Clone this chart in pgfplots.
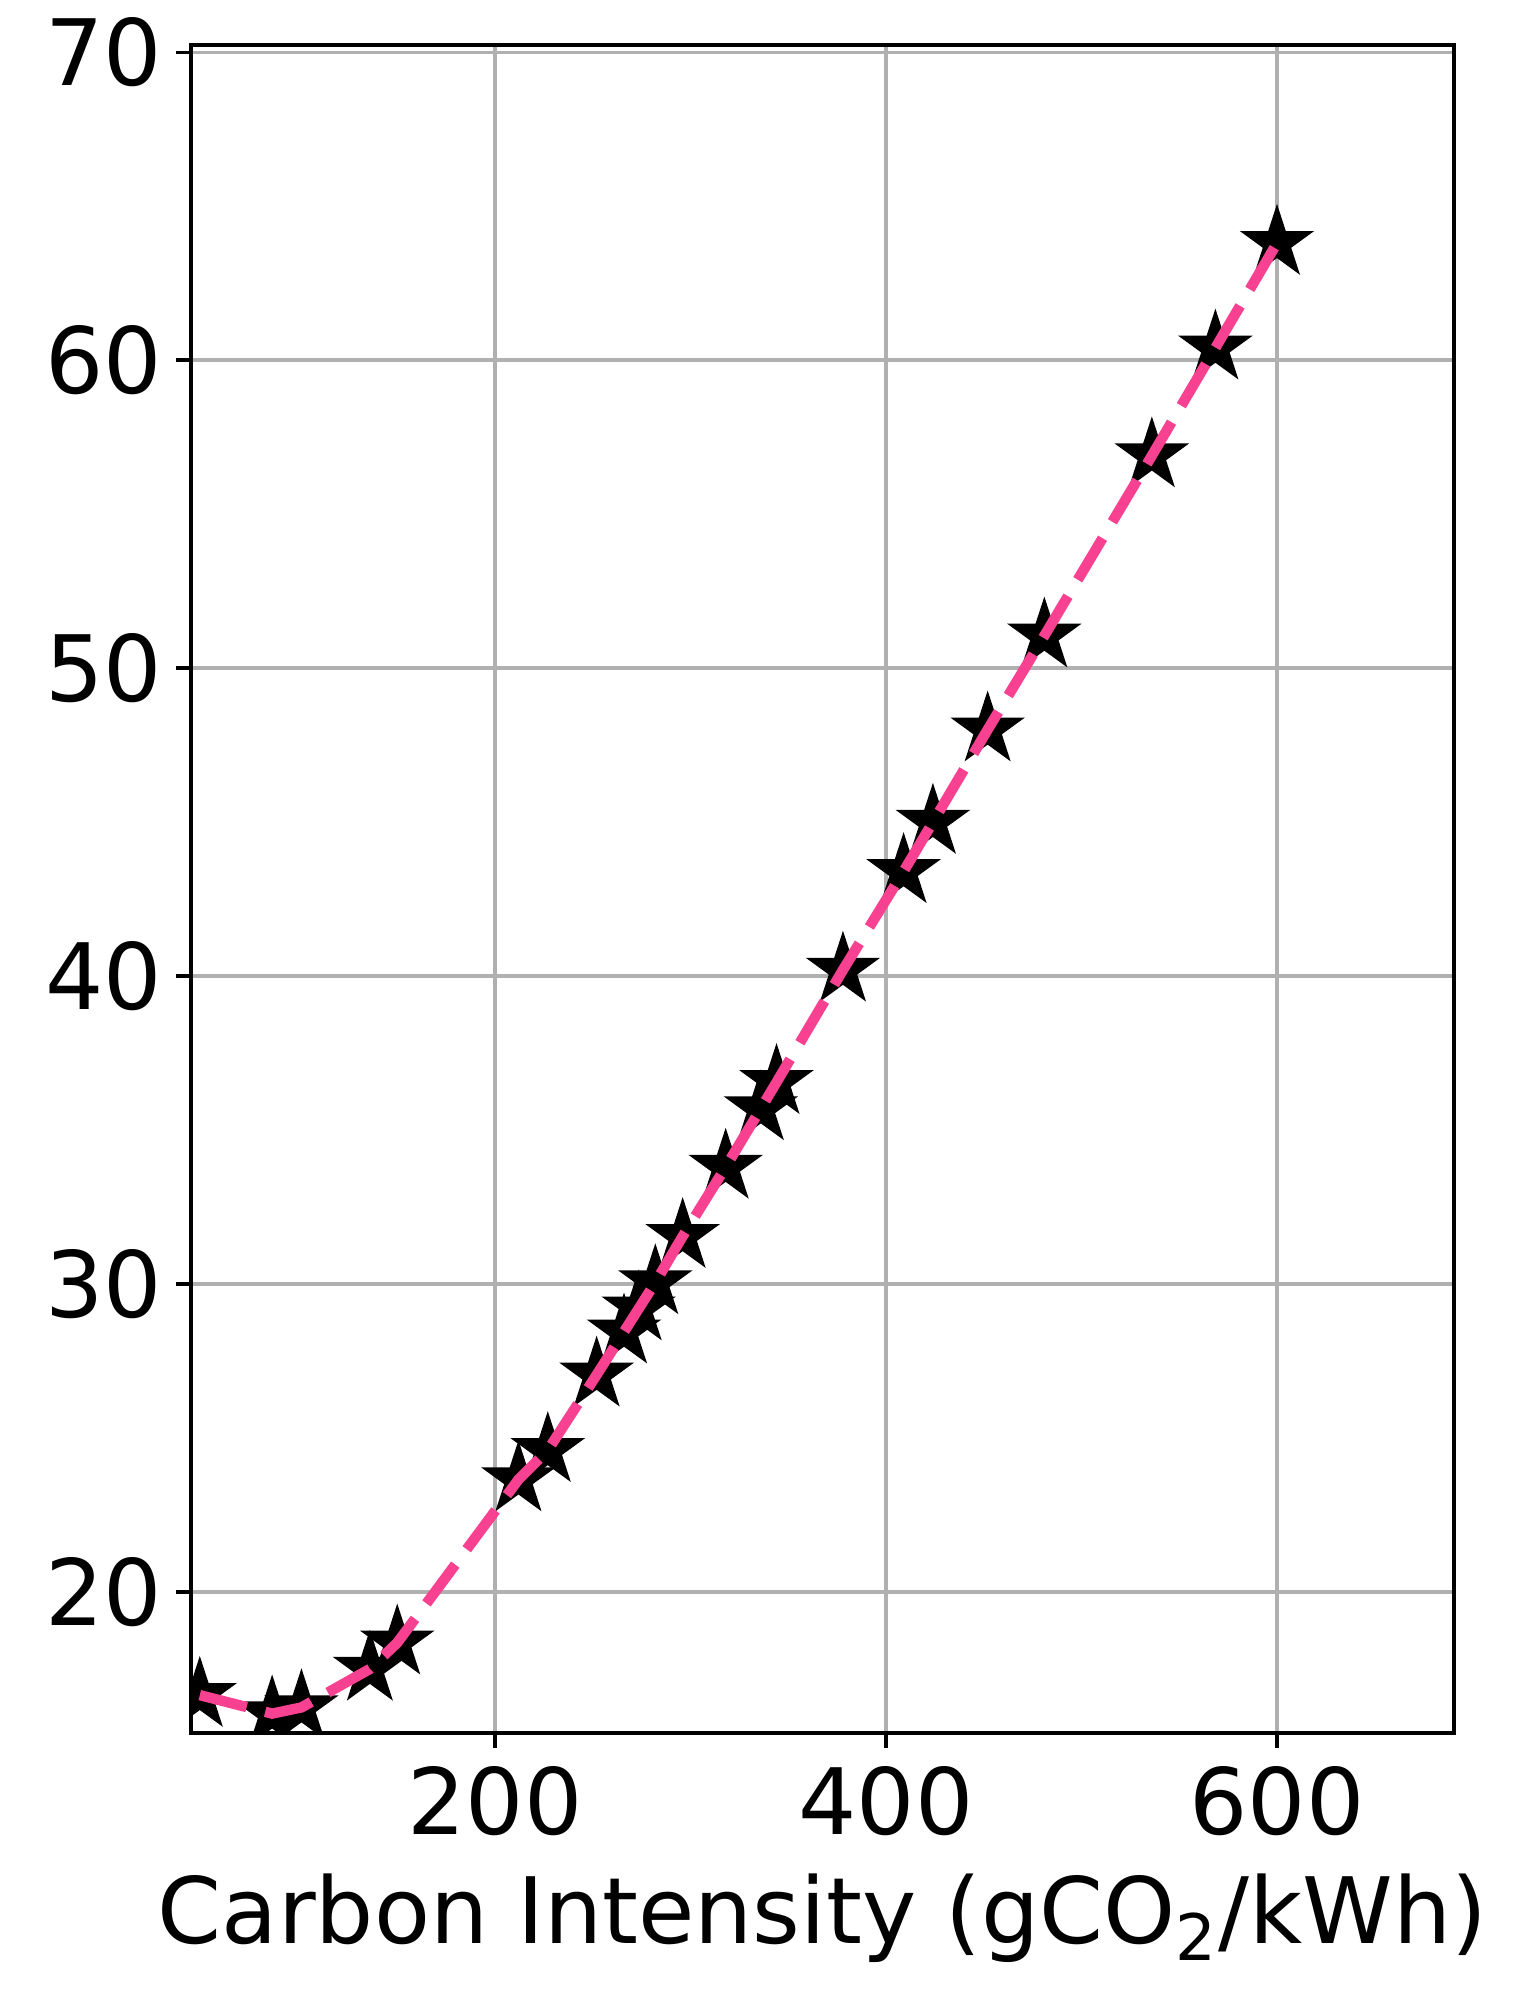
\documentclass[border=0pt]{standalone}
\usepackage{pgfplots}
\pgfplotsset{compat=1.18}
\usepackage{fontspec}
\setmainfont{DejaVu Sans}
\definecolor{pinkline}{RGB}{248,66,145}
\definecolor{gridgray}{RGB}{176,176,176}
\pgfdeclareplotmark{mplstar}{%
  \pgfpathmoveto{\pgfpointpolar{90}{\pgfplotmarksize}}%
  \pgfpathlineto{\pgfpointpolar{126}{0.381966\pgfplotmarksize}}%
  \pgfpathlineto{\pgfpointpolar{162}{\pgfplotmarksize}}%
  \pgfpathlineto{\pgfpointpolar{198}{0.381966\pgfplotmarksize}}%
  \pgfpathlineto{\pgfpointpolar{234}{\pgfplotmarksize}}%
  \pgfpathlineto{\pgfpointpolar{270}{0.381966\pgfplotmarksize}}%
  \pgfpathlineto{\pgfpointpolar{306}{\pgfplotmarksize}}%
  \pgfpathlineto{\pgfpointpolar{342}{0.381966\pgfplotmarksize}}%
  \pgfpathlineto{\pgfpointpolar{18}{\pgfplotmarksize}}%
  \pgfpathlineto{\pgfpointpolar{54}{0.381966\pgfplotmarksize}}%
  \pgfpathclose
  \pgfusepathqfill
}
\pgfplotstableread{
x y
49 16.65
86 16.05
101 16.25
136 17.5
150 18.35
212 23.65
227 24.6
252 27.05
266 28.45
273.5 29.2
282 30.05
296 31.55
318 33.8
336 35.7
344 36.55
378 40.2
409 43.4
424 45.0
452 48.0
481 51.05
536 56.9
568.5 60.4
600 63.8
}\datatable
\begin{document}
\begin{tikzpicture}
\path[use as bounding box] (0,0) rectangle (367.2pt,482.4pt);
\begin{axis}[
  at={(45.84pt,66.48pt)}, anchor=south west,
  scale only axis, width=303.1pt, height=405.1pt,
  xmin=44.5, xmax=690.5, ymin=15.42, ymax=70.23,
  xtick={200,400,600}, ytick={20,30,40,50,60,70},
  grid=major,
  major grid style={color=gridgray, line width=0.8pt},
  axis line style={line width=0.8pt, black},
  every tick/.style={black, line width=0.8pt},
  tick align=outside, major tick length=3.5pt,
  xtick pos=bottom, ytick pos=left,
  /pgf/number format/assume math mode=true,
  tick label style={font=\fontsize{22}{26}\selectfont},
  xticklabel style={yshift=-1pt},
  yticklabel style={xshift=0pt},
  label style={font=\fontsize{22}{26}\selectfont},
  xlabel={Carbon Intensity (gCO\textsubscript{2}/kWh)},
  xlabel style={at={(axis description cs:0.5,0)}, anchor=base, yshift=-50.4pt},
  clip marker paths=true,
]
\addplot[only marks, mark=mplstar, mark size=9.4pt, color=black] table[x=x,y=y] {\datatable};
\addplot[pinkline, line width=2.5pt, dash pattern=on 11.6pt off 4.6pt, no marks] table[x=x,y=y] {\datatable};
\end{axis}
\end{tikzpicture}
\end{document}
